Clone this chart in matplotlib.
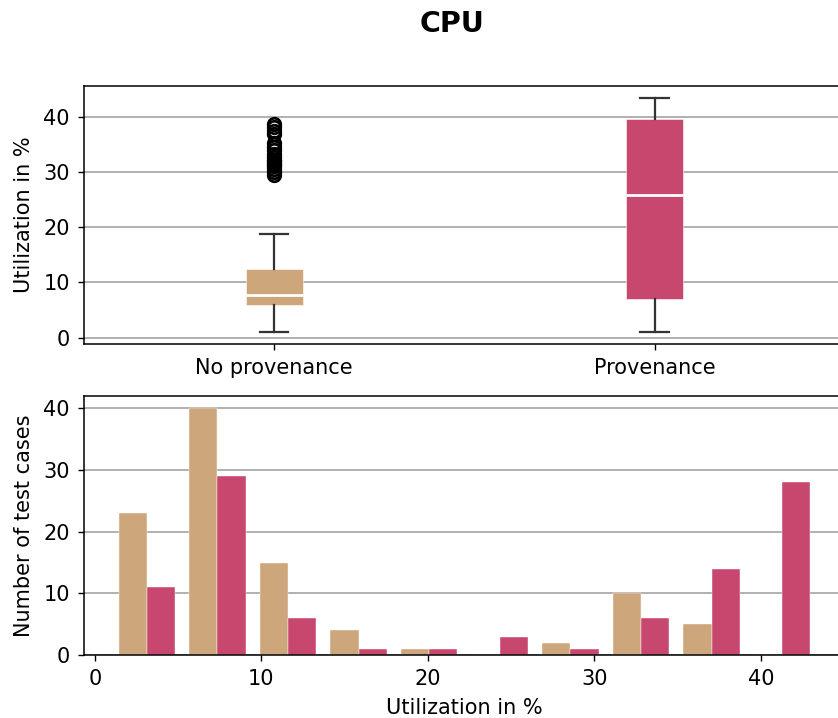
import numpy as np
import matplotlib
matplotlib.use("Agg")
import matplotlib.pyplot as plt

# box statistics (utilization in %)
groups = ["No provenance", "Provenance"]
colors = ["#CDA67B", "#C8476E"]
q1 = [6.0, 7.1]
med = [7.7, 25.8]
q3 = [12.5, 39.6]
whislo = [1.0, 1.0]
whishi = [18.8, 43.4]
fliers_np = [29.5, 30.0, 30.6, 31.0, 31.3, 31.6, 31.9, 32.2, 32.6, 33.2,
             34.0, 34.5, 35.2, 36.8, 37.3, 38.2, 38.7]

# histogram counts, 10 bins between min and max utilization
util_min, util_max = 1.0, 43.4
counts_np = [23, 40, 15, 4, 1, 0, 2, 10, 5, 0]
counts_p = [11, 29, 6, 1, 1, 3, 1, 6, 14, 28]

plt.rcParams["font.size"] = 15
plt.rcParams["xtick.major.size"] = 4.2
plt.rcParams["ytick.major.size"] = 4.2
plt.rcParams["xtick.major.width"] = 1.0
plt.rcParams["ytick.major.width"] = 1.0
plt.rcParams["xtick.major.pad"] = 6
plt.rcParams["ytick.major.pad"] = 6
plt.rcParams["axes.labelpad"] = 6.5
plt.rcParams["axes.linewidth"] = 1.1

fig = plt.figure(figsize=(8.38, 7.18), dpi=100)
right = 845 / 838
ax1 = fig.add_axes([0.1002, 0.5209, right - 0.1002, 0.8802 - 0.5209])
ax2 = fig.add_axes([0.1002, 0.0877, right - 0.1002, 0.4485 - 0.0877])

stats = []
for i, g in enumerate(groups):
    stats.append(dict(label=g, q1=q1[i], med=med[i], q3=q3[i],
                      whislo=whislo[i], whishi=whishi[i],
                      fliers=fliers_np if i == 0 else []))

bp = ax1.bxp(stats, patch_artist=True,
             medianprops=dict(color="white", linewidth=2),
             whiskerprops=dict(color="#333333", linewidth=1.6),
             capprops=dict(color="#333333", linewidth=1.6),
             flierprops=dict(marker="o", markerfacecolor="none",
                             markeredgecolor="black", markersize=9,
                             markeredgewidth=2))
for box, c in zip(bp["boxes"], colors):
    box.set_facecolor(c)
    box.set_edgecolor("white")
    box.set_linewidth(0.4)
ax1.set_ylabel("Utilization in %")
ax1.yaxis.grid(True, color="#b0b0b0", linewidth=1.4)
ax1.set_axisbelow(True)
ax1.set_xlim(0.5, 2.5)

edges = np.linspace(util_min, util_max, 11)
centers = (edges[:-1] + edges[1:]) / 2
ax2.hist([centers, centers], bins=edges, weights=[counts_np, counts_p],
         color=colors, edgecolor="white", linewidth=0.3)
ax2.set_xlabel("Utilization in %")
ax2.set_ylabel("Number of test cases")
ax2.yaxis.grid(True, color="#b0b0b0", linewidth=1.4)
ax2.set_axisbelow(True)
ax2.set_xticks([0, 10, 20, 30, 40])
ax2.set_yticks([0, 10, 20, 30, 40])

fig.text(452 / 838, 0.967, "CPU", ha="center", va="center",
         fontsize=20.5, fontweight="bold")

fig.savefig("out.png", dpi=100)
